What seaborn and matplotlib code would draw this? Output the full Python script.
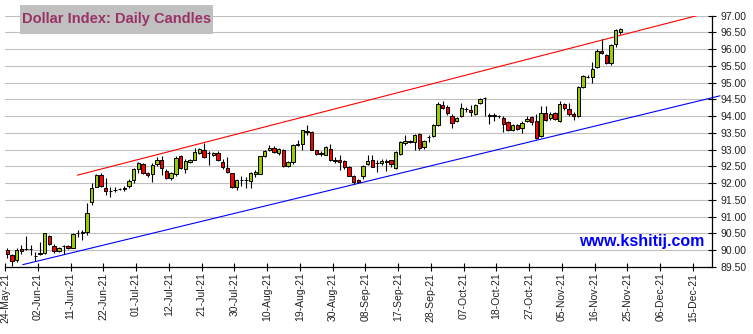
import numpy as np
import pandas as pd
import matplotlib
matplotlib.use("Agg")
import matplotlib.pyplot as plt
from matplotlib.patches import Rectangle
from matplotlib.ticker import MultipleLocator, FormatStrFormatter
import seaborn as sns

# ---- daily OHLC, US Dollar Index ----
dates = pd.bdate_range("2021-05-24", periods=132)

open_ = [90.00, 89.85, 89.72, 90.05, 90.04, 90.05, 89.84, 89.92, 89.92, 90.43,
         90.14, 89.99, 90.13, 90.14, 90.08, 90.50, 90.52, 90.55, 91.44, 91.89,
         92.26, 91.87, 91.78, 91.80, 91.82, 91.83, 91.91, 92.11, 92.41, 92.57,
         92.30, 92.28, 92.57, 92.70, 92.38, 92.15, 92.28, 92.82, 92.41, 92.62,
         92.70, 92.90, 93.00, 92.90, 92.84, 92.90, 92.63, 92.46, 92.31, 91.88,
         92.10, 92.09, 92.06, 92.28, 92.29, 92.80, 93.00, 93.06, 92.90, 92.98,
         92.51, 92.63, 93.14, 93.17, 93.55, 93.53, 92.98, 92.86, 92.85, 93.03,
         92.69, 92.70, 92.65, 92.49, 92.23, 92.11, 92.23, 92.56, 92.70, 92.60,
         92.60, 92.64, 92.68, 92.45, 92.88, 93.20, 93.25, 93.24, 93.47, 93.07,
         93.37, 93.41, 93.74, 94.34, 94.29, 94.02, 93.85, 94.00, 94.22, 94.20,
         94.07, 94.39, 94.54, 94.03, 94.02, 94.00, 93.94, 93.82, 93.59, 93.74,
         93.65, 93.85, 93.97, 93.85, 93.41, 94.10, 93.94, 94.10, 93.87, 94.36,
         94.23, 94.08, 94.01, 94.88, 95.18, 95.16, 95.48, 95.95, 95.83, 95.60,
         96.17, 96.50]
high = [90.08, 89.90, 90.08, 90.17, 90.44, 90.17, 89.95, 90.24, 90.52, 90.46,
        90.18, 90.10, 90.15, 90.16, 90.50, 90.59, 90.59, 91.40, 92.00, 92.28,
        92.32, 92.15, 91.89, 91.88, 91.86, 91.91, 92.13, 92.46, 92.62, 92.60,
        92.35, 92.60, 92.77, 92.80, 92.41, 92.35, 92.80, 92.85, 92.72, 92.72,
        93.05, 93.06, 93.20, 92.95, 92.93, 92.95, 92.73, 92.77, 92.32, 92.13,
        92.21, 92.19, 92.33, 92.40, 92.82, 93.00, 93.15, 93.10, 93.05, 93.02,
        92.66, 93.18, 93.30, 93.60, 93.75, 93.55, 93.00, 92.95, 93.12, 93.18,
        92.78, 92.83, 92.68, 92.51, 92.26, 92.14, 92.53, 92.85, 92.85, 92.68,
        92.72, 92.73, 92.70, 92.96, 93.27, 93.45, 93.30, 93.47, 93.50, 93.30,
        93.44, 93.76, 94.42, 94.45, 94.33, 94.08, 93.97, 94.40, 94.28, 94.32,
        94.37, 94.53, 94.56, 94.10, 94.10, 94.05, 94.00, 93.86, 93.78, 93.77,
        93.85, 94.02, 94.02, 94.07, 94.31, 94.31, 94.12, 94.13, 94.46, 94.40,
        94.38, 94.13, 94.90, 95.22, 95.22, 95.63, 96.02, 96.30, 95.85, 96.17,
        96.60, 96.62]
low = [89.78, 89.53, 89.65, 89.90, 90.00, 89.85, 89.67, 89.87, 89.90, 90.15,
       89.93, 89.96, 89.88, 90.05, 90.07, 90.41, 90.32, 90.45, 91.34, 91.88,
       91.89, 91.65, 91.59, 91.74, 91.79, 91.77, 91.86, 92.00, 92.31, 92.28,
       92.18, 92.04, 92.50, 92.26, 92.13, 92.11, 92.21, 92.43, 92.31, 92.60,
       92.68, 92.88, 92.75, 92.53, 92.82, 92.65, 92.43, 92.31, 91.86, 91.81,
       91.91, 91.86, 91.86, 92.20, 92.27, 92.78, 92.96, 92.90, 92.85, 92.48,
       92.49, 92.58, 93.10, 93.00, 93.45, 92.98, 92.85, 92.82, 92.83, 92.66,
       92.60, 92.40, 92.43, 92.21, 91.99, 92.01, 92.14, 92.54, 92.47, 92.33,
       92.55, 92.36, 92.48, 92.43, 92.84, 93.15, 93.20, 92.98, 92.99, 93.02,
       93.22, 93.38, 93.70, 94.22, 94.04, 93.66, 93.82, 93.97, 94.12, 94.00,
       94.05, 94.36, 94.00, 93.77, 93.87, 93.95, 93.52, 93.55, 93.55, 93.58,
       93.51, 93.83, 93.73, 93.31, 93.37, 93.85, 93.88, 93.90, 93.83, 94.20,
       94.00, 93.89, 93.98, 94.85, 95.15, 95.00, 95.45, 95.85, 95.55, 95.53,
       96.07, 96.45]
close = [89.88, 89.67, 90.02, 89.99, 90.05, 90.04, 89.82, 89.89, 90.50, 90.18,
         89.97, 90.06, 90.14, 90.08, 90.47, 90.52, 90.53, 91.12, 91.87, 92.26,
         91.93, 91.78, 91.76, 91.81, 91.83, 91.87, 92.08, 92.43, 92.60, 92.30,
         92.26, 92.53, 92.68, 92.45, 92.16, 92.30, 92.75, 92.46, 92.65, 92.70,
         92.92, 93.02, 92.78, 92.89, 92.90, 92.70, 92.48, 92.34, 91.88, 92.11,
         92.09, 92.10, 92.31, 92.34, 92.80, 92.96, 93.06, 92.93, 93.03, 92.51,
         92.63, 93.15, 93.18, 93.58, 93.53, 92.98, 92.88, 92.91, 93.08, 92.70,
         92.67, 92.63, 92.49, 92.23, 92.04, 92.04, 92.50, 92.65, 92.49, 92.59,
         92.66, 92.65, 92.56, 92.92, 93.24, 93.26, 93.24, 93.44, 93.05, 93.27,
         93.38, 93.74, 94.36, 94.25, 94.09, 93.80, 93.95, 94.25, 94.21, 94.12,
         94.32, 94.51, 94.53, 94.02, 94.03, 94.01, 93.76, 93.59, 93.75, 93.62,
         93.80, 93.92, 93.82, 93.34, 94.11, 93.89, 94.07, 93.92, 94.36, 94.26,
         94.06, 94.01, 94.88, 95.20, 95.17, 95.41, 95.95, 95.88, 95.58, 96.14,
         96.57, 96.60]

# channel lines: (session index, price) end points
upper_x = [14.95, 147.3]
upper_y = [92.24, 97.00]
lower_x = [3.3, 152.3]
lower_y = [89.57, 94.61]

n_slots = 151          # sessions shown on the axis
label_every = 7        # sessions between date labels
axis_dates = pd.bdate_range("2021-05-24", periods=n_slots)
tick_labels = [d.strftime("%d-%b-%y") for d in axis_dates[::label_every]]

sns.set_theme(style="white")
plt.rcParams["font.family"] = ["Liberation Sans", "DejaVu Sans"]

df = pd.DataFrame({"date": dates, "open": open_, "high": high,
                   "low": low, "close": close})
df["pos"] = np.arange(len(df))
df["up"] = df["close"] >= df["open"]
df["body_lo"] = df[["open", "close"]].min(axis=1)
df["body_h"] = (df["close"] - df["open"]).abs().clip(lower=0.006)

fig = plt.figure(figsize=(7.53, 3.34), dpi=100)
W, H = 753, 334
ax = fig.add_axes([5 / W, 67 / H, 706.7 / W, 251.3 / H])

ax.set_xlim(-0.5, n_slots - 0.5)
ax.set_ylim(89.5, 97.0)
ax.yaxis.set_major_locator(MultipleLocator(0.5))
ax.yaxis.set_major_formatter(FormatStrFormatter("%.2f"))
ax.grid(axis="y", color="#c0c0c0", lw=0.8)
ax.grid(axis="x", visible=False)
ax.set_axisbelow(True)

# trend channel
sns.lineplot(x=upper_x, y=upper_y, color="#ff0000", lw=0.8, ax=ax, zorder=2)
sns.lineplot(x=lower_x, y=lower_y, color="#0000ff", lw=0.8, ax=ax, zorder=2,
             clip_on=False)

# candles: wicks then bodies
ax.vlines(df["pos"], df["low"], df["high"], color="black", lw=0.8, zorder=3)
ax.bar(df["pos"], df["body_h"], bottom=df["body_lo"], width=0.72,
       color=np.where(df["up"], "#99cc00", "#ff0000"),
       edgecolor="black", linewidth=0.7, zorder=4)

ax.set_xticks(np.arange(0, n_slots, label_every) - 0.5)
ax.set_xticklabels(tick_labels)
ax.tick_params(axis="x", direction="inout", length=6, width=0.8,
               colors="black", labelsize=7.5, rotation=90, pad=1,
               bottom=True)
ax.yaxis.tick_right()
ax.tick_params(axis="y", direction="inout", length=6, width=0.8,
               colors="black", labelsize=7.5, pad=3, right=True)
for lab in ax.get_xticklabels() + ax.get_yticklabels():
    lab.set_color("#222222")

for side in ("left", "top"):
    ax.spines[side].set_visible(False)
for side in ("right", "bottom"):
    ax.spines[side].set_visible(True)
    ax.spines[side].set_color("black")
    ax.spines[side].set_linewidth(0.9)

ax.set_xlabel("")
ax.set_ylabel("")
if ax.get_legend() is not None:
    ax.get_legend().remove()

# title panel
fig.patches.append(Rectangle((20 / W, 1 - 33.5 / H), 193 / W, 28.5 / H,
                             transform=fig.transFigure, facecolor="#c0c0c0",
                             edgecolor="none", zorder=5))
fig.text(116.5 / W, 1 - 19.5 / H, "Dollar Index: Daily Candles",
         ha="center", va="center", fontsize=10.5, fontweight="bold",
         color="#993366", zorder=6)

ax.text(0.901, 0.1, "www.kshitij.com", transform=ax.transAxes,
        ha="center", va="center", fontsize=11.5, fontweight="bold",
        color="#0000ff", zorder=6)

fig.savefig("out.png", dpi=100)
